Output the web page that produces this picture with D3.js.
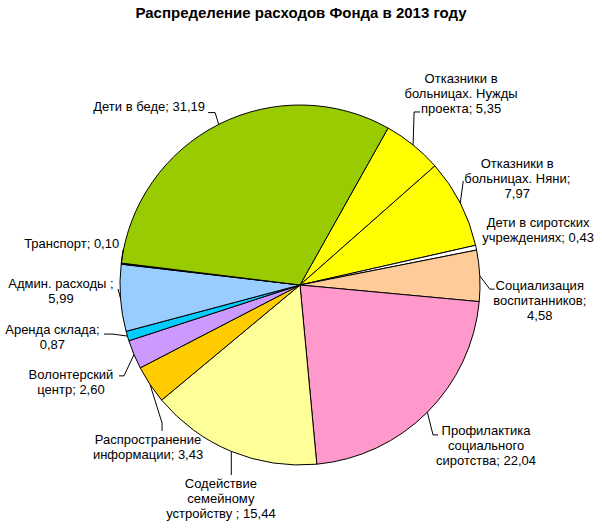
<!DOCTYPE html>
<html>
<head>
<meta charset="utf-8">
<script src="https://cdn.jsdelivr.net/npm/d3@7"></script>
<style>
  body { margin: 0; background: #fff; }
  svg text { font-family: "Liberation Sans", Arial, sans-serif; fill: #000; }
</style>
</head>
<body>
<div id="chart"></div>
<script>
// chart data
const categories = [
  "Отказники в больницах. Нужды проекта",
  "Отказники в больницах. Няни",
  "Дети в сиротских учреждениях",
  "Социализация воспитанников",
  "Профилактика социального сиротства",
  "Содействие семейному устройству",
  "Распространение информации",
  "Волонтерский центр",
  "Аренда склада",
  "Админ. расходы",
  "Транспорт",
  "Дети в беде"
];
const values = [5.35, 7.97, 0.43, 4.58, 22.04, 15.44, 3.43, 2.60, 0.87, 5.99, 0.10, 31.19];
const colors = ["#FFFF00", "#FFFF00", "#FFFFFF", "#FFCC99", "#FF99CC", "#FFFF99",
                "#FFCC00", "#CC99FF", "#00CCFF", "#99CCFF", "#000080", "#99CC00"];
// wrapped label text, {v} = value
const labelLines = [
  ["Отказники в", "больницах. Нужды", "проекта; {v}"],
  ["Отказники в", "больницах. Няни;", "{v}"],
  ["Дети в сиротских", "учреждениях; {v}"],
  ["Социализация", "воспитанников;", "{v}"],
  ["Профилактика", "социального", "сиротства; {v}"],
  ["Содействие", "семейному", "устройству ; {v}"],
  ["Распространение", "информации; {v}"],
  ["Волонтерский", "центр; {v}"],
  ["Аренда склада;", "{v}"],
  ["Админ. расходы ;", "{v}"],
  ["Транспорт; {v}"],
  ["Дети в беде; {v}"]
];
const title = "Распределение расходов Фонда в 2013 году";

// label placement, relative to the point where each slice's mid-angle meets the rim
// t: first text line centre, e: elbow of leader, f: end of leader
const labelLayout = [
  {t: [48, -67],    e: [1, -33],     f: [7, -33]},
  {t: [57, -40],    e: [3, -22],     f: [3, -22]},
  {t: [62, -25.6],  e: null,         f: null},
  {t: [60, 9.4],    e: [10, 13.4],   f: [15, 13.4]},
  {t: [58.7, 18.7], e: [5.7, 22.7],  f: [10.7, 22.7]},
  {t: [-10.4, 31.6],e: [0, 23.6],    f: [0, 23.6]},
  {t: [-2, 54.4],   e: [12, 38.4],   f: [12, 46.4]},
  {t: [-63, 20.3],  e: [-10, 21.3],  f: [-15, 21.3]},
  {t: [-75, -7],    e: [-14.4, -2],  f: [-23.4, -2]},
  {t: [-59.5, -15], e: [-2.5, -9],   f: [-2.5, -9]},
  {t: [-49.6, -19.7], e: [1.7, -13.7], f: [1.7, -13.7]},
  {t: [-69.6, -17.5], e: [-3.6, -11.8], f: [-10.6, -11.8]}
];

const width = 602, height = 528;
const cx = 300, cy = 285, radius = 180;
const lineH = 15;
const startDeg = 29.3;
const fmt = v => d3.format(".2f")(v).replace(".", ",");

const data = categories.map((c, i) => ({name: c, value: values[i], color: colors[i], lines: labelLines[i], lay: labelLayout[i]}));

const svg = d3.select("#chart").append("svg")
  .attr("width", width)
  .attr("height", height);

svg.append("text")
  .attr("x", width / 2)
  .attr("y", 18)
  .attr("text-anchor", "middle")
  .style("font-size", "15px")
  .style("font-weight", "bold")
  .text(title);

const start = startDeg * Math.PI / 180;
const pie = d3.pie().sort(null).value(d => d.value)
  .startAngle(start).endAngle(start + 2 * Math.PI);
const arc = d3.arc().innerRadius(0).outerRadius(radius);
const arcs = pie(data);

const g = svg.append("g").attr("transform", `translate(${cx},${cy})`);
g.selectAll("path.slice")
  .data(arcs)
  .enter()
  .append("path")
  .attr("class", "slice")
  .attr("d", arc)
  .attr("fill", d => d.data.color)
  .attr("stroke", "#000")
  .attr("stroke-width", 1)
  .attr("stroke-linejoin", "round");

// rim point at mid angle, absolute coords
function rim(d) {
  let a = (d.startAngle + d.endAngle) / 2;
  return [cx + radius * Math.sin(a), cy - radius * Math.cos(a)];
}

// leader lines
arcs.forEach(d => {
  let lay = d.data.lay;
  if (!lay.f) return;
  let p = rim(d);
  let pts = [p, [p[0] + lay.e[0], p[1] + lay.e[1]], [p[0] + lay.f[0], p[1] + lay.f[1]]];
  svg.append("path")
    .attr("d", d3.line()(pts))
    .attr("fill", "none")
    .attr("stroke", "#000")
    .attr("stroke-width", 1);
});

// labels
arcs.forEach(d => {
  let lay = d.data.lay;
  let p = rim(d);
  let t = svg.append("text")
    .attr("text-anchor", "middle")
    .style("font-size", "13px");
  d.data.lines.forEach((ln, j) => {
    t.append("tspan")
      .attr("x", p[0] + lay.t[0])
      .attr("y", p[1] + lay.t[1] + j * lineH)
      .attr("dy", "0.35em")
      .text(ln.replace("{v}", fmt(d.data.value)));
  });
});
</script>
</body>
</html>
